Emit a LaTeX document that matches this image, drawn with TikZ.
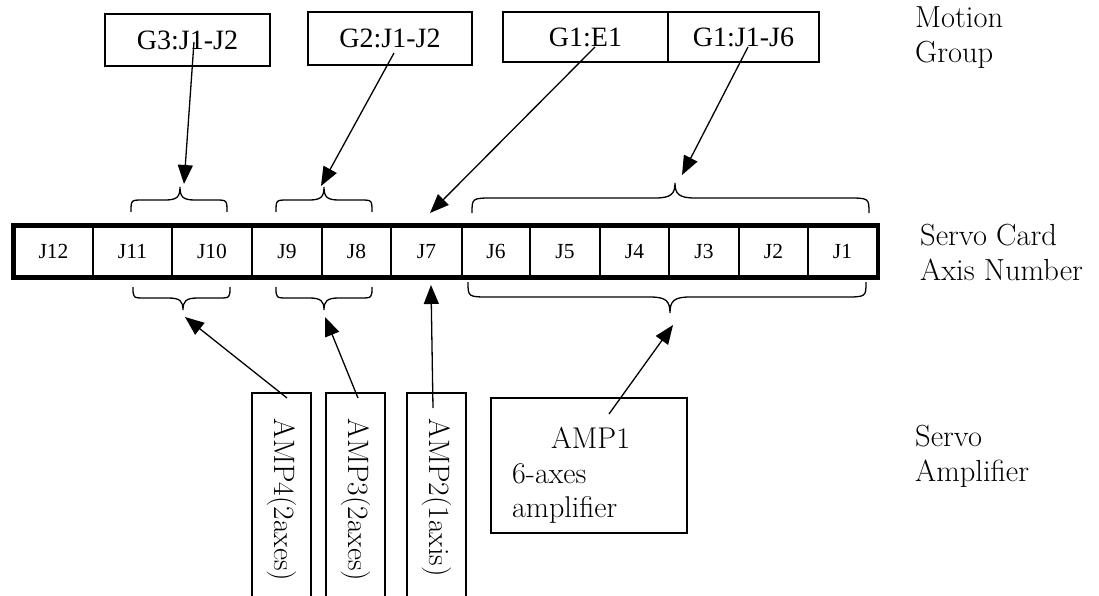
\documentclass[tikz,border=0pt]{standalone}
\usepackage{fontspec}
\newfontfamily\tnr{Liberation Serif}
\usetikzlibrary{arrows.meta}
\begin{document}
\begin{tikzpicture}[x=1pt,y=-1pt,
  box/.style={draw, line width=1.5pt, inner sep=0pt, font=\tnr\fontsize{28}{32}\selectfont},
  cell/.style={draw, line width=1.5pt, inner sep=0pt, minimum height=50.5pt, font=\tnr\fontsize{21.5}{24}\selectfont},
  arr/.style={line width=1.3pt, -{Triangle[length=19pt,width=15pt]}},
  brc/.style={line width=1.3pt},
  lbl/.style={align=left, inner sep=0pt, anchor=north west, font=\fontsize{30.5}{35}\selectfont},
  ampv/.style={draw, line width=1.5pt, rotate=-90, anchor=west, minimum height=59pt, text width=220pt, align=left, inner xsep=26pt, inner ysep=0pt, font=\fontsize{29.5}{33}\selectfont},
  ampbox/.style={draw, line width=1.5pt, inner sep=0pt}]
\useasboundingbox (0,0) rectangle (1099,596);

% motion group boxes
\node[box, minimum width=165pt, minimum height=52pt] (g3) at (187.5,40) {G3:J1-J2};
\node[box, minimum width=164pt, minimum height=53pt] (g2) at (390,38.5) {G2:J1-J2};
\node[box, minimum width=165pt, minimum height=50pt] (g1e) at (585.5,37) {G1:E1};
\node[box, minimum width=151pt, minimum height=50pt] (g1j) at (743.5,37) {G1:J1-J6};

% servo card cells
\node[cell, minimum width=79pt] (j12) at (53.5,251.5) {J12};
\node[cell, minimum width=79pt] (j11) at (132.5,251.5) {J11};
\node[cell, minimum width=80pt] (j10) at (212,251.5) {J10};
\node[cell, minimum width=70pt] (j9) at (287,251.5) {J9};
\node[cell, minimum width=69pt] (j8) at (356.5,251.5) {J8};
\node[cell, minimum width=71pt] (j7) at (426.5,251.5) {J7};
\node[cell, minimum width=68pt] (j6) at (496,251.5) {J6};
\node[cell, minimum width=70pt] (j5) at (565,251.5) {J5};
\node[cell, minimum width=69pt] (j4) at (634.5,251.5) {J4};
\node[cell, minimum width=70pt] (j3) at (704,251.5) {J3};
\node[cell, minimum width=69pt] (j2) at (773.5,251.5) {J2};
\node[cell, minimum width=69pt] (j1) at (842.5,251.5) {J1};
\draw[line width=4.5pt] (j12.north west) rectangle (j1.south east);

% braces above
\draw[brc] (131,212) .. controls (131,200) .. (143,200) -- (165,200) .. controls (177,200) and (180,197) .. (180,187)
  .. controls (180,197) and (183,200) .. (195,200) -- (215,200) .. controls (227,200) .. (227,212);
\draw[brc] (276,212) .. controls (276,200) .. (288,200) -- (309,200) .. controls (321,200) and (324,197) .. (324,187)
  .. controls (324,197) and (327,200) .. (339,200) -- (360,200) .. controls (372,200) .. (372,212);
\draw[brc] (472,213) .. controls (472,198) .. (494,198) -- (655,198) .. controls (671,198) and (675,194) .. (675,183)
  .. controls (675,194) and (679,198) .. (695,198) -- (847,198) .. controls (869,198) .. (869,213);
% braces below
\draw[brc] (133,287) .. controls (133,298) .. (145,298) -- (168,298) .. controls (180,298) and (183,301) .. (183,310)
  .. controls (183,301) and (186,298) .. (198,298) -- (218,298) .. controls (230,298) .. (230,287);
\draw[brc] (276,287) .. controls (276,298) .. (288,298) -- (309,298) .. controls (321,298) and (324,301) .. (324,310)
  .. controls (324,301) and (327,298) .. (339,298) -- (360,298) .. controls (372,298) .. (372,287);
\draw[brc] (468,282) .. controls (468,297) .. (490,297) -- (650,297) .. controls (666,297) and (670,301) .. (670,313)
  .. controls (670,301) and (674,297) .. (690,297) -- (844,297) .. controls (866,297) .. (866,282);

% amplifiers
\node[ampv] (amp4) at (281.5,392) {AMP4(2axes)};
\node[ampv] (amp3) at (355.5,392) {AMP3(2axes)};
\node[ampv] (amp2) at (436.5,392) {AMP2(1axis)};
\node[ampbox, minimum width=196pt, minimum height=135pt] (amp1) at (589,465.5) {};
\node[lbl, font=\fontsize{30}{34.5}\selectfont] (amp1txt) at (512,427.5) {\hspace*{39pt}AMP1\\6-axes\\amplifier};

% side labels
\node[lbl] (lmg) at (915,6.2) {Motion\\Group};
\node[lbl] (lsc) at (920,224.2) {Servo Card\\Axis Number};
\node[lbl] (lsa) at (915,425.2) {Servo\\Amplifier};

% connector ends
\coordinate (s3) at (194,42);  \coordinate (t3) at (184,184);
\coordinate (s2) at (394,53);  \coordinate (t2) at (321,186);
\coordinate (se) at (595,47);  \coordinate (te) at (430,213);
\coordinate (sj) at (748,47);  \coordinate (tj) at (682,175);
\coordinate (a4) at (287,398); \coordinate (b4) at (185,317);
\coordinate (a3) at (358,398); \coordinate (b3) at (325,317);
\coordinate (a2) at (433,408); \coordinate (b2) at (431,285);
\coordinate (a1) at (609,414); \coordinate (b1) at (673,325);

\draw[arr] (s3) -- (t3);
\draw[arr] (s2) -- (t2);
\draw[arr] (se) -- (te);
\draw[arr] (sj) -- (tj);
\draw[arr] (a4) -- (b4);
\draw[arr] (a3) -- (b3);
\draw[arr] (a2) -- (b2);
\draw[arr] (a1) -- (b1);
\end{tikzpicture}
\end{document}
